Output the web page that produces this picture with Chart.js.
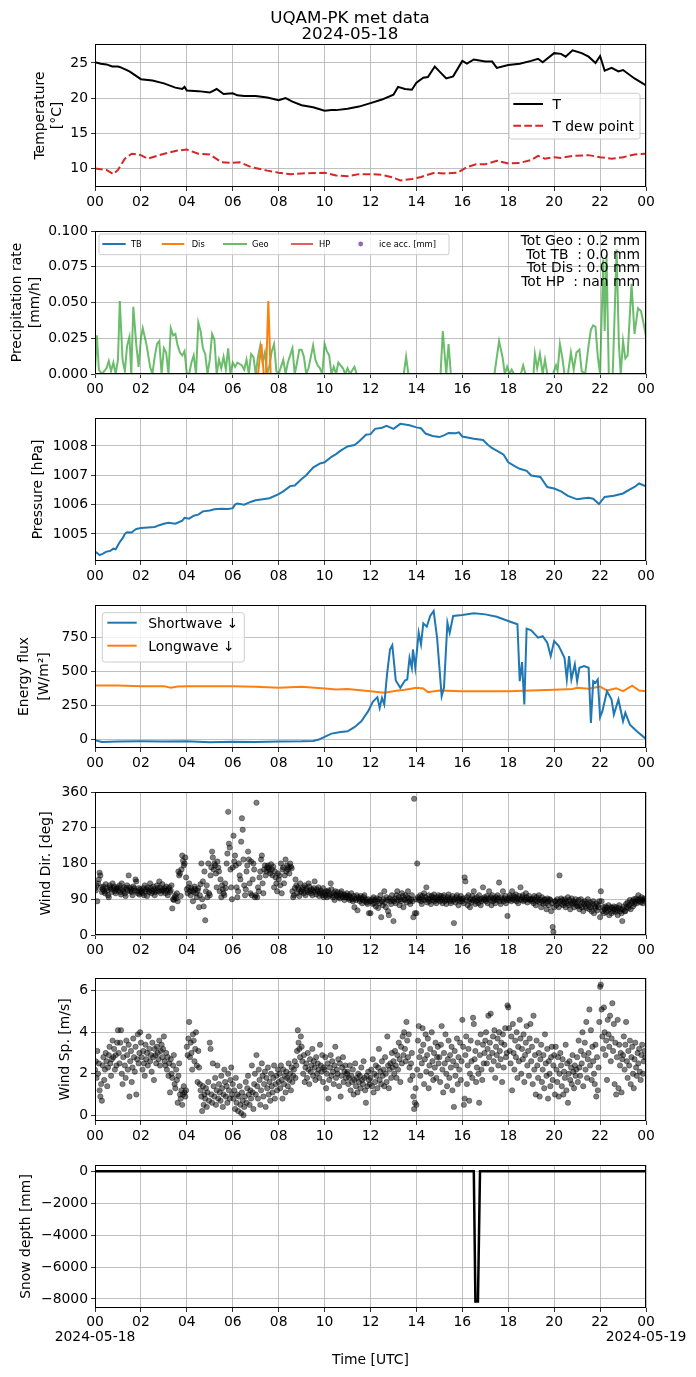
<!DOCTYPE html>
<html lang="en">
<head>
<meta charset="UTF-8">
<title>UQAM-PK met data</title>
<style type="text/css">
    body { margin: 0; background: #fff; }
    #fig { position: relative; width: 696px; height: 1377px; overflow: hidden; }
    .panel { position: absolute; left: 0; width: 696px; z-index: 1; }
    #overlay { position: absolute; left: 0; top: 0; z-index: 2; pointer-events: none; }
    #overlay text { font-family: 'DejaVu Sans', sans-serif; fill: #000; }
</style>
</head>
<body>
<div id="fig">
    <div class="panel" id="p1"><canvas></canvas></div>
    <div class="panel" id="p2"><canvas></canvas></div>
    <div class="panel" id="p3"><canvas></canvas></div>
    <div class="panel" id="p4"><canvas></canvas></div>
    <div class="panel" id="p5"><canvas></canvas></div>
    <div class="panel" id="p6"><canvas></canvas></div>
    <div class="panel" id="p7"><canvas></canvas></div>

    <!-- titles, axis labels and legends as text on top of the canvases -->
    <svg id="overlay" width="696" height="1377" viewBox="0 0 696 1377">
        <text x="350" y="16.7" font-size="16.7" text-anchor="middle" dominant-baseline="central">UQAM-PK met data</text>
        <text x="350" y="33.3" font-size="16.7" text-anchor="middle" dominant-baseline="central">2024-05-18</text>

        <text transform="translate(38.7,115.5) rotate(-90)" font-size="13.9" text-anchor="middle" dominant-baseline="central">Temperature</text>
        <text transform="translate(55.6,115.5) rotate(-90)" font-size="13.9" text-anchor="middle" dominant-baseline="central">[°C]</text>
        <text transform="translate(15.6,302.5) rotate(-90)" font-size="13.9" text-anchor="middle" dominant-baseline="central">Precipitation rate</text>
        <text transform="translate(33.8,302.5) rotate(-90)" font-size="13.9" text-anchor="middle" dominant-baseline="central">[mm/h]</text>
        <text transform="translate(36.9,489.5) rotate(-90)" font-size="13.9" text-anchor="middle" dominant-baseline="central">Pressure [hPa]</text>
        <text transform="translate(22.7,676.5) rotate(-90)" font-size="13.9" text-anchor="middle" dominant-baseline="central">Energy flux</text>
        <text transform="translate(43,676.5) rotate(-90)" font-size="13.9" text-anchor="middle" dominant-baseline="central">[W/m²]</text>
        <text transform="translate(45.3,863.5) rotate(-90)" font-size="13.9" text-anchor="middle" dominant-baseline="central">Wind Dir. [deg]</text>
        <text transform="translate(63.5,1049.5) rotate(-90)" font-size="13.9" text-anchor="middle" dominant-baseline="central">Wind Sp. [m/s]</text>
        <text transform="translate(25,1236.5) rotate(-90)" font-size="13.9" text-anchor="middle" dominant-baseline="central">Snow depth [mm]</text>
        <text x="370.5" y="1359" font-size="13.9" text-anchor="middle" dominant-baseline="central">Time [UTC]</text>

        <!-- temperature legend -->
        <rect x="509" y="93.3" width="131" height="45.7" rx="2.5" fill="#fff" fill-opacity="0.8" stroke="#cccccc" stroke-width="1"/>
        <line x1="513.3" x2="543" y1="104" y2="104" stroke="#000" stroke-width="2"/>
        <text x="552.4" y="104" font-size="13.9" dominant-baseline="central">T</text>
        <line x1="513.3" x2="543" y1="125.7" y2="125.7" stroke="#d62728" stroke-width="2" stroke-dasharray="7.7 3.3"/>
        <text x="552.4" y="125.7" font-size="13.9" dominant-baseline="central">T dew point</text>

        <!-- precipitation legend -->
        <rect x="99" y="234" width="350" height="20.7" rx="2" fill="#fff" fill-opacity="0.8" stroke="#cccccc" stroke-width="1"/>
        <line x1="102.3" x2="125.7" y1="244" y2="244" stroke="#1f77b4" stroke-width="2"/>
        <text x="131" y="244" font-size="8.33" dominant-baseline="central">TB</text>
        <line x1="161.7" x2="184.3" y1="244" y2="244" stroke="#ff7f0e" stroke-width="2"/>
        <text x="191.7" y="244" font-size="8.33" dominant-baseline="central">Dis</text>
        <line x1="223" x2="247" y1="244" y2="244" stroke="rgb(107,188,107)" stroke-width="2"/>
        <text x="252" y="244" font-size="8.33" dominant-baseline="central">Geo</text>
        <line x1="291" x2="313" y1="244" y2="244" stroke="rgb(226,95,96)" stroke-width="2"/>
        <text x="319" y="244" font-size="8.33" dominant-baseline="central">HP</text>
        <circle cx="360.7" cy="244" r="2.4" fill="#9467bd"/>
        <text x="379" y="244" font-size="8.33" dominant-baseline="central">ice acc. [mm]</text>

        <!-- precipitation totals -->
        <text x="640" y="239.7" font-size="13.9" text-anchor="end" dominant-baseline="central" style="white-space:pre">Tot Geo : 0.2 mm</text>
        <text x="640" y="253.7" font-size="13.9" text-anchor="end" dominant-baseline="central" style="white-space:pre">Tot TB  : 0.0 mm</text>
        <text x="640" y="267.3" font-size="13.9" text-anchor="end" dominant-baseline="central" style="white-space:pre">Tot Dis : 0.0 mm</text>
        <text x="640" y="281.3" font-size="13.9" text-anchor="end" dominant-baseline="central" style="white-space:pre">Tot HP  : nan mm</text>

        <!-- radiation legend -->
        <rect x="102.3" y="612.7" width="142" height="49.3" rx="2.5" fill="#fff" fill-opacity="0.8" stroke="#cccccc" stroke-width="1"/>
        <line x1="107.3" x2="136.7" y1="622.7" y2="622.7" stroke="#1f77b4" stroke-width="2"/>
        <text x="148.3" y="622.7" font-size="13.9" dominant-baseline="central">Shortwave ↓</text>
        <line x1="107.3" x2="136.7" y1="645.7" y2="645.7" stroke="#ff7f0e" stroke-width="2"/>
        <text x="148.3" y="645.7" font-size="13.9" dominant-baseline="central">Longwave ↓</text>
    </svg>
</div>

<script src="https://cdn.jsdelivr.net/npm/chart.js"></script>
<script>
    // ---- data (time in hours UTC of 2024-05-18) ----
    const xTickHours = [0, 2, 4, 6, 8, 10, 12, 14, 16, 18, 20, 22, 24];
    const dayLabels = ['2024-05-18', '2024-05-19'];

    const tempTicks = [10, 15, 20, 25];
    const precipTicks = [0, 0.025, 0.05, 0.075, 0.1];
    const presTicks = [1005, 1006, 1007, 1008];
    const fluxTicks = [0, 250, 500, 750];
    const dirTicks = [0, 90, 180, 270, 360];
    const spdTicks = [0, 2, 4, 6];
    const snowTicks = [-8000, -6000, -4000, -2000, 0];

    // [hour, degC]
    const airTemp = [[0,25.1],[0.25,24.9],[0.5,24.8],[0.75,24.5],[1,24.5],[1.1,24.4],[1.5,23.8],[2,22.7],[2.5,22.5],[3,22.1],
        [3.5,21.5],[3.8,21.3],[3.9,21.6],[4,21.1],[4.5,21.0],[5,20.8],[5.3,21.3],[5.6,20.6],[6,20.7],[6.2,20.4],[6.5,20.3],
        [7,20.3],[7.5,20.1],[8,19.7],[8.3,20.0],[8.6,19.5],[9,19.0],[9.5,18.7],[10,18.2],[10.3,18.3],[10.5,18.3],[11,18.5],
        [11.5,18.8],[12,19.3],[12.5,19.8],[13,20.5],[13.2,21.6],[13.5,21.3],[13.8,21.2],[14,22.2],[14.3,22.9],[14.5,23.0],
        [14.8,24.5],[15,23.8],[15.3,22.8],[15.6,23.1],[16,25.3],[16.2,24.9],[16.5,25.5],[17,25.2],[17.3,25.2],[17.5,24.3],
        [18,24.7],[18.5,24.9],[19,25.3],[19.3,25.6],[19.5,25.1],[20,26.4],[20.3,26.3],[20.5,25.9],[20.8,26.8],[21.2,26.4],
        [21.5,25.9],[21.8,25.0],[22,26.0],[22.2,23.9],[22.5,24.3],[22.8,23.8],[23,24.0],[23.5,22.8],[24,21.8]];
    const dewPoint = [[0,10.0],[0.5,9.8],[0.8,9.2],[1,9.8],[1.3,11.4],[1.6,12.1],[2,11.9],[2.3,11.4],[2.8,11.9],[3.5,12.5],
        [4,12.7],[4.5,12.1],[5,12.0],[5.5,10.9],[6,10.8],[6.3,10.9],[6.8,10.2],[7.5,9.7],[8,9.4],[8.5,9.2],[9,9.3],[10,9.4],
        [10.5,9.0],[11,8.9],[11.5,9.2],[12,9.2],[12.5,9.1],[13,8.7],[13.3,8.3],[13.8,8.5],[14.2,8.8],[14.8,9.4],[15.2,9.3],
        [15.8,9.4],[16.2,10.2],[16.6,10.6],[17,10.6],[17.5,11.1],[18,10.7],[18.5,10.8],[19,11.2],[19.3,11.8],[19.6,11.4],
        [20,11.6],[20.3,11.5],[20.8,11.8],[21.5,11.9],[22,11.6],[22.5,11.4],[23,11.6],[23.5,12.0],[24,12.1]];

    // [hour, mm/h]
    const precipTB = [[0,0],[24,0]];
    const precipDis = [[0,0],[7.1,0],[7.25,0.021],[7.35,0],[7.45,0],[7.55,0.051],[7.65,0],[24,0]];
    const precipGeo = [[0,0.002],[0.08,0.027],[0.17,0.003],[0.3,0],[0.5,0.004],[0.6,0.009],[0.7,0.002],[0.8,0.008],[0.9,0],
        [1.0,0.01],[1.08,0.051],[1.2,0.01],[1.3,0.002],[1.4,0.02],[1.5,0.026],[1.58,0],[1.67,0.047],[1.8,0.02],[1.9,0.005],
        [2.0,0.025],[2.08,0.032],[2.25,0.02],[2.4,0.005],[2.5,0],[2.6,0.012],[2.7,0.021],[2.8,0.023],[2.9,0],[3.0,0.018],
        [3.1,0.015],[3.2,0],[3.3,0.032],[3.4,0.027],[3.5,0.028],[3.6,0.02],[3.7,0.015],[3.8,0.013],[3.9,0.016],[4.0,0],[4.1,0],
        [4.2,0.008],[4.3,0.013],[4.4,0],[4.5,0.036],[4.6,0.03],[4.7,0.018],[4.8,0.014],[4.9,0],[5.0,0.01],[5.1,0.028],
        [5.2,0.024],[5.3,0],[5.4,0.01],[5.5,0.004],[5.6,0.012],[5.7,0.003],[5.8,0.018],[5.9,0],[6.0,0.008],[6.1,0.005],
        [6.2,0.008],[6.3,0.007],[6.4,0.006],[6.5,0.003],[6.6,0.01],[6.7,0],[6.8,0.014],[6.9,0.012],[7.0,0],[7.1,0.012],
        [7.2,0.02],[7.3,0.008],[7.4,0.015],[7.5,0],[7.6,0.006],[7.7,0.016],[7.8,0.021],[7.9,0.002],[8.0,0],[8.1,0.005],
        [8.2,0.01],[8.3,0],[8.4,0.008],[8.5,0.013],[8.6,0.018],[8.7,0],[8.8,0.008],[8.9,0.017],[9.0,0.017],[9.1,0.012],
        [9.2,0],[9.3,0.004],[9.4,0.012],[9.5,0.02],[9.6,0.01],[9.7,0.006],[9.8,0.004],[9.9,0],[10.0,0.021],[10.1,0.016],
        [10.2,0.013],[10.3,0],[10.4,0.005],[10.5,0],[10.6,0.008],[10.7,0.006],[10.8,0.004],[10.9,0],[11.0,0.004],[11.1,0],
        [11.3,0.005],[11.4,0],[13.45,0],[13.55,0.012],[13.65,0],[15.05,0],[15.15,0.03],[15.3,0],[15.4,0.021],[15.5,0],
        [17.4,0],[17.6,0.023],[17.75,0.012],[17.85,0],[17.95,0.005],[18.05,0],[18.15,0.003],[18.25,0],[18.55,0],
        [18.65,0.006],[18.75,0],[19.1,0],[19.16,0.014],[19.26,0.004],[19.38,0.014],[19.5,0],[19.6,0.01],[19.7,0],[19.95,0],
        [20.08,0.006],[20.15,0.002],[20.25,0.021],[20.35,0.012],[20.45,0],[20.6,0],[20.73,0.015],[20.85,0.003],[20.97,0.015],
        [21.1,0.017],[21.2,0.002],[21.35,0],[21.5,0.02],[21.6,0.031],[21.7,0.034],[21.8,0.033],[21.9,0.012],[22.0,0],
        [22.14,0.08],[22.2,0.03],[22.28,0.083],[22.38,0],[22.55,0],[22.65,0.05],[22.72,0.087],[22.82,0.02],[22.9,0],
        [23.0,0.023],[23.1,0.011],[23.2,0.013],[23.37,0.063],[23.5,0.028],[23.65,0.046],[23.78,0.044],[23.9,0.035],[24,0.026]];

    // [hour, hPa]
    const pressure = [[0,1004.4],[0.1,1004.35],[0.2,1004.28],[0.35,1004.33],[0.5,1004.4],[0.65,1004.42],[0.8,1004.5],
        [0.9,1004.48],[1.0,1004.62],[1.1,1004.75],[1.2,1004.85],[1.3,1005.0],[1.4,1005.06],[1.6,1005.05],[1.7,1005.12],
        [1.8,1005.17],[2.0,1005.2],[2.3,1005.22],[2.6,1005.24],[2.8,1005.3],[3.0,1005.35],[3.2,1005.38],[3.5,1005.35],
        [3.8,1005.45],[3.9,1005.55],[4.1,1005.52],[4.3,1005.62],[4.5,1005.66],[4.7,1005.77],[5.0,1005.8],[5.2,1005.84],
        [5.5,1005.86],[5.8,1005.85],[6.0,1005.88],[6.1,1006.0],[6.2,1006.04],[6.5,1006.0],[6.8,1006.1],[7.0,1006.15],
        [7.3,1006.18],[7.6,1006.22],[8.0,1006.36],[8.2,1006.45],[8.5,1006.63],[8.7,1006.65],[9.0,1006.87],[9.2,1007.0],
        [9.5,1007.26],[9.8,1007.4],[10.0,1007.44],[10.3,1007.63],[10.5,1007.72],[10.7,1007.84],[11.0,1007.98],[11.3,1008.03],
        [11.5,1008.15],[11.8,1008.38],[12.0,1008.4],[12.2,1008.58],[12.5,1008.62],[12.7,1008.68],[13.0,1008.58],
        [13.3,1008.75],[13.7,1008.7],[14.0,1008.63],[14.2,1008.6],[14.4,1008.42],[14.7,1008.34],[15.0,1008.3],
        [15.2,1008.36],[15.4,1008.44],[15.7,1008.43],[15.85,1008.46],[16.0,1008.32],[16.5,1008.24],[16.9,1008.2],
        [17.1,1008.05],[17.3,1007.92],[17.5,1007.84],[17.8,1007.7],[18.0,1007.44],[18.3,1007.3],[18.5,1007.22],
        [18.8,1007.15],[19.0,1006.99],[19.4,1006.94],[19.7,1006.6],[20.0,1006.55],[20.3,1006.45],[20.6,1006.3],
        [21.0,1006.18],[21.3,1006.22],[21.5,1006.23],[21.7,1006.2],[21.95,1006.02],[22.2,1006.26],[22.6,1006.3],
        [23.0,1006.38],[23.3,1006.52],[23.5,1006.6],[23.7,1006.72],[24,1006.62]];

    // [hour, W/m2]
    const shortwave = [[0,-5],[0.3,-17],[1,-14],[2,-13],[3,-14],[4,-13],[5,-20],[6,-16],[7,-18],[8,-15],[9,-13],[9.5,-10],
        [9.75,0],[10.0,20],[10.3,44],[10.7,56],[11.0,61],[11.3,91],[11.6,135],[11.9,209],[12.1,278],[12.3,312],[12.4,233],
        [12.5,307],[12.6,258],[12.72,479],[12.85,663],[12.95,695],[13.1,435],[13.3,381],[13.5,435],[13.6,442],[13.7,602],
        [13.8,528],[13.85,663],[13.95,528],[14.1,786],[14.2,700],[14.3,855],[14.45,830],[14.6,909],[14.75,946],[14.9,750],
        [15.1,319],[15.2,381],[15.35,860],[15.45,786],[15.6,909],[16.0,916],[16.5,929],[17.0,921],[17.5,904],[18.0,872],
        [18.4,848],[18.5,430],[18.6,570],[18.7,258],[18.8,816],[19.0,804],[19.3,750],[19.5,760],[19.7,713],[19.85,614],
        [20.0,725],[20.2,688],[20.45,602],[20.55,442],[20.65,614],[20.75,442],[20.9,553],[21.0,430],[21.1,528],[21.3,540],
        [21.5,528],[21.6,123],[21.7,430],[21.8,418],[21.9,442],[22.0,165],[22.1,209],[22.3,356],[22.5,295],[22.6,184],
        [22.8,295],[23.0,135],[23.1,197],[23.3,110],[23.6,61],[24,5]];
    const longwave = [[0,398],[1,398],[2,393],[3,393],[3.3,381],[3.6,390],[4,393],[6,393],[7,388],[8,381],[9,388],[10,376],
        [10.5,369],[11,372],[12,356],[12.6,344],[13.2,361],[13.5,366],[14,381],[14.3,376],[14.5,349],[15,361],[16,356],
        [17,356],[18,356],[19,361],[20,366],[20.8,372],[21,381],[21.5,374],[22,390],[22.3,361],[22.7,378],[23,356],
        [23.4,396],[23.7,361],[24,356]];

    // one value every 2 minutes, one row per hour
    const windDir = [
        118,112,125,85,130,140,157,150,120,108,115,122,110,105,128,118,112,100,95,125,120,115,108,130,118,122,110,105,115,120,
        112,118,125,108,102,130,115,110,120,105,98,118,125,112,150,120,110,115,108,100,122,118,112,140,135,110,105,118,102,115,
        108,112,105,118,100,125,110,115,98,120,112,108,130,118,105,110,122,115,100,108,112,125,118,110,135,120,105,112,128,115,
        110,118,105,122,112,100,115,120,108,112,125,67,90,88,95,100,92,105,85,160,150,155,98,165,200,187,175,180,195,145,
        115,105,120,130,110,100,118,112,85,108,122,115,105,95,112,118,70,100,128,180,90,135,72,160,37,110,125,95,180,105,
        100,150,170,210,195,165,180,175,155,120,185,170,160,110,140,95,125,115,105,100,130,118,180,205,310,230,220,165,120,90,
        170,250,185,200,175,120,95,110,180,150,140,235,294,265,190,125,100,115,160,175,210,190,130,105,185,100,140,180,165,95,
        100,333,95,120,110,145,160,190,200,130,105,165,175,150,160,170,175,168,162,155,178,165,150,172,120,160,145,130,110,155,
        140,150,125,180,105,165,170,130,150,190,160,175,165,170,155,180,172,168,110,95,100,118,140,125,105,120,115,98,130,108,
        110,115,120,105,125,100,118,112,108,130,122,110,105,115,100,112,118,135,108,102,115,110,120,98,105,112,108,100,118,95,
        105,100,110,95,108,112,98,102,130,115,100,95,105,88,110,102,98,108,95,100,92,105,110,98,95,102,88,100,95,105,
        98,92,100,88,95,105,90,85,98,70,92,88,100,62,95,90,85,98,92,80,88,95,100,85,90,82,78,90,55,85,
        55,85,90,78,95,80,88,72,92,85,68,90,80,100,45,85,75,90,110,82,70,95,88,60,50,92,85,78,100,88,
        35,85,92,80,100,110,88,95,75,90,85,105,98,70,90,88,100,82,95,110,92,85,78,90,100,85,45,343,55,90,
        55,180,95,88,92,100,85,78,98,90,105,88,95,120,82,90,100,85,92,78,98,88,95,102,85,90,80,95,88,100,
        92,85,98,88,80,95,100,85,90,78,88,95,102,90,85,80,92,98,86,30,90,82,95,100,88,75,92,85,98,90,
        85,92,80,145,135,88,95,75,100,85,70,90,82,98,88,110,92,78,85,95,88,80,100,90,75,85,92,120,88,95,
        90,85,98,80,92,110,88,95,75,100,85,92,88,80,95,88,100,92,132,85,78,95,90,110,85,92,98,80,88,48,
        92,88,100,95,85,110,90,98,88,95,102,85,92,80,98,90,120,88,95,100,85,92,88,105,95,82,90,98,88,90,
        90,85,92,80,98,88,75,95,85,90,100,82,88,70,95,85,78,90,88,80,65,92,85,75,90,88,60,80,20,8,
        70,85,85,75,90,80,70,150,85,92,78,88,75,82,90,70,85,80,95,75,88,65,80,92,78,85,70,82,90,75,
        80,72,88,65,75,90,70,82,60,78,85,72,68,80,90,75,65,82,70,60,78,85,55,72,68,80,62,75,70,85,
        45,110,85,60,70,55,65,72,58,68,62,75,50,65,70,55,68,60,72,65,58,70,62,50,68,75,60,65,55,35,
        65,72,60,60,78,70,82,68,75,88,65,80,85,72,90,78,85,92,80,88,100,85,90,82,95,88,80,92,85,90];
    const windSpd = [
        2.2,2.6,1.8,3.1,2.0,2.5,1.2,0.9,1.5,0.7,2.4,2.8,1.7,2.2,3.0,2.6,1.4,2.3,2.9,3.3,2.5,1.9,2.7,3.6,2.8,3.2,2.2,2.9,2.4,3.5,
        4.1,3.0,2.5,3.5,4.1,2.0,1.5,2.8,3.2,2.4,1.8,3.6,2.9,2.2,3.4,0.9,2.6,3.1,1.6,2.3,3.7,2.8,2.1,3.3,1.0,2.7,3.9,2.5,3.0,4.0,
        3.5,2.8,2.2,3.1,2.5,1.9,3.4,2.7,3.0,2.4,3.8,3.2,2.6,2.9,2.1,3.5,2.8,1.7,3.2,2.9,2.5,3.3,3.0,2.7,3.6,2.4,3.1,3.4,2.8,3.2,
        3.8,2.6,2.4,3.0,2.2,2.8,1.9,2.5,1.1,2.7,2.0,1.8,2.4,2.9,1.5,1.3,2.2,1.7,0.6,1.9,2.5,1.0,0.8,1.2,0.5,1.0,1.4,1.1,0.9,1.2,
        3.3,2.9,3.7,4.5,2.8,3.5,3.0,2.2,3.9,3.6,2.6,3.2,4.0,2.4,1.6,3.1,2.3,1.5,1.2,0.9,0.2,1.4,0.5,1.0,0.8,1.3,0.4,1.1,1.6,0.7,
        3.5,3.2,1.0,0.6,2.5,1.4,0.9,1.8,0.5,1.2,2.4,0.8,1.5,1.1,0.7,1.9,1.3,0.4,1.0,2.2,1.6,0.9,1.4,0.6,2.0,1.2,0.8,1.7,2.3,1.0,
        1.5,0.8,1.2,0.3,1.8,0.6,1.0,0.2,0.9,1.4,0.5,0.1,1.1,0.7,0.0,0.4,0.9,1.6,0.6,1.3,1.9,1.0,0.5,1.2,0.8,2.4,1.1,0.3,1.5,2.0,
        1.0,2.9,1.4,0.8,2.2,1.7,0.5,1.2,2.5,1.9,0.9,1.5,2.1,0.4,1.8,1.3,2.3,1.0,1.6,0.7,2.0,1.4,1.1,1.8,2.4,0.8,1.5,1.9,1.2,2.2,
        1.6,2.0,1.3,2.4,1.7,0.8,2.2,1.5,1.9,1.1,2.1,1.8,1.4,2.5,1.7,2.0,1.2,2.3,1.6,1.9,2.2,2.6,1.8,2.4,3.1,4.1,3.5,3.2,2.8,3.8,
        3.3,2.6,2.0,2.9,1.6,2.3,2.5,1.8,3.0,2.2,1.5,2.7,2.1,2.4,3.2,1.9,2.6,2.3,1.7,2.8,2.0,2.5,2.2,1.8,3.4,2.4,2.1,2.9,1.6,2.3,
        2.2,2.8,1.3,2.0,2.5,0.8,1.7,2.3,2.9,1.9,2.6,2.1,1.5,2.4,3.3,1.8,2.2,2.0,2.7,1.4,2.5,0.9,1.9,2.3,2.8,1.6,2.1,2.4,1.8,2.0,
        2.1,1.5,1.8,2.4,1.2,1.9,1.6,2.2,1.0,1.7,2.5,1.4,1.8,1.1,2.0,1.6,1.9,1.3,2.3,1.7,1.5,2.6,1.8,1.2,0.6,1.9,1.4,2.1,1.7,1.5,
        1.8,2.2,1.4,2.7,1.1,2.0,1.6,2.4,1.9,1.3,2.3,3.2,1.7,2.1,1.5,2.6,1.9,2.2,1.4,2.8,2.0,1.6,3.8,2.4,1.3,2.2,2.5,1.8,3.0,2.3,
        2.6,2.0,3.1,2.4,1.8,2.9,2.2,3.5,2.7,1.6,3.3,2.5,3.8,2.9,4.0,3.2,2.6,4.5,3.6,2.8,3.9,2.3,1.7,2.5,3.0,1.9,0.9,0.3,0.6,1.3,
        0.5,2.2,3.6,4.3,2.8,1.9,3.1,2.5,4.2,3.4,1.5,2.7,3.9,2.1,2.9,3.7,1.3,2.4,3.2,2.0,4.0,2.6,1.7,3.0,2.3,3.5,1.8,2.8,3.3,2.5,
        2.8,1.6,3.4,4.3,2.2,1.1,3.0,2.5,3.9,2.0,1.4,2.7,3.6,1.8,2.9,2.3,3.3,1.2,2.6,0.4,3.1,1.9,2.4,3.7,1.5,2.8,2.2,3.5,1.7,2.6,
        4.6,3.3,0.5,0.8,2.9,3.8,1.5,2.4,3.2,0.7,2.0,3.6,2.6,1.8,4.7,4.4,2.7,3.1,1.6,2.3,3.5,2.0,0.6,2.9,3.9,2.2,1.7,3.4,2.5,3.0,
        3.6,4.0,2.5,3.2,4.8,2.8,3.5,4.9,2.2,3.0,3.8,2.6,4.1,1.8,3.3,2.9,3.7,2.4,4.0,3.1,2.7,3.5,1.6,3.9,2.3,3.4,4.2,2.8,3.0,5.3,
        5.2,4.2,3.1,2.5,3.8,1.2,4.4,3.0,2.2,3.6,2.8,4.0,1.8,3.3,2.6,4.6,3.7,2.0,3.2,2.7,3.9,1.6,2.9,3.5,4.3,2.4,3.1,1.9,3.7,4.4,
        2.6,3.3,1.5,4.8,2.2,2.9,1.0,3.6,2.4,1.8,3.0,0.9,2.7,3.4,1.6,2.2,2.9,1.3,3.9,2.5,1.9,3.2,0.8,2.6,2.0,1.4,2.8,3.3,1.7,2.4,
        2.9,1.0,3.3,2.2,1.6,2.8,0.9,2.0,3.0,2.4,1.4,2.7,1.0,2.1,1.8,3.4,1.2,2.5,0.6,2.0,2.6,1.7,2.3,1.5,2.9,2.1,1.3,2.4,1.9,2.2,
        2.8,1.6,3.6,2.3,1.9,3.1,2.5,4.0,1.4,2.9,3.5,2.2,4.5,1.8,2.7,3.0,5.1,2.4,4.1,1.7,3.3,2.6,2.0,1.5,3.4,0.9,2.8,1.2,2.3,4.5,
        6.2,6.3,5.1,3.8,3.2,5.2,4.0,2.9,3.6,1.7,4.6,3.9,3.3,4.8,2.6,3.7,5.4,3.1,4.4,1.5,3.5,1.0,2.8,4.6,1.3,3.4,2.4,3.0,1.1,2.7,
        2.9,3.8,2.2,3.4,4.5,2.6,1.8,3.1,2.4,3.6,1.5,2.8,3.3,2.0,1.3,2.7,3.5,2.3,1.9,3.0,2.5,3.2,2.1,1.7,2.9,3.4,2.0,2.6,3.1,2.8];

    // [hour, mm]
    const snowDepth = [[0,0],[16.5,0],[16.57,-8150],[16.68,-8150],[16.77,0],[24,0]];

    // ---- layout ----
    const PAD_TOP = 14, PLOT_H = 143, RIGHT_GAP = 50, AXIS_W = 95;
    const FONT = "'DejaVu Sans', sans-serif";

    Chart.defaults.font.family = FONT;
    Chart.defaults.font.size = 13.9;
    Chart.defaults.color = '#000';

    function pts(pairs) {
        return pairs.map(p => ({ x: p[0], y: p[1] }));
    }
    function evenPts(values) {
        return values.map((v, i) => ({ x: i * 24 / values.length, y: v }));
    }
    function lineSet(pairs, color, extra) {
        return Object.assign({
            data: pts(pairs), borderColor: color, borderWidth: 2,
            pointRadius: 0, tension: 0, fill: false
        }, extra || {});
    }
    function dotSet(values) {
        return {
            data: evenPts(values), showLine: false, pointRadius: 2.7,
            pointBackgroundColor: 'rgba(0,0,0,0.5)', pointBorderColor: 'rgba(0,0,0,0.55)', pointBorderWidth: 0.6
        };
    }

    // matplotlib style closed frame around the plot area
    const framePlugin = {
        id: 'frame',
        afterDatasetsDraw(chart) {
            const a = chart.chartArea, c = chart.ctx;
            c.save();
            c.strokeStyle = '#000';
            c.lineWidth = 1;
            c.strokeRect(Math.round(a.left) + 0.5, Math.round(a.top) + 0.5,
                Math.round(a.right - a.left) - 1, Math.round(a.bottom - a.top) - 1);
            c.restore();
        }
    };

    function hourLabel(v, last) {
        const s = String(v % 24).padStart(2, '0');
        if (last && v === 0) return [s, dayLabels[0]];
        if (last && v === 24) return [s, dayLabels[1]];
        return s;
    }

    function makePanel(id, top, bottomRoom, datasets, yMin, yMax, yTicks, yFmt, last) {
        const wrap = document.getElementById(id);
        wrap.style.top = (top - PAD_TOP) + 'px';
        wrap.style.height = (PAD_TOP + PLOT_H + bottomRoom) + 'px';
        const grid = { color: '#b0b0b0', lineWidth: 0.8, tickColor: '#000', tickLength: 4, tickWidth: 0.8, drawTicks: true };
        return new Chart(wrap.querySelector('canvas'), {
            type: 'line',
            data: { datasets: datasets },
            options: {
                animation: false,
                responsive: true,
                maintainAspectRatio: false,
                layout: { padding: { top: PAD_TOP, right: RIGHT_GAP, left: 0, bottom: 0 } },
                plugins: { legend: { display: false }, tooltip: { enabled: false } },
                scales: {
                    x: {
                        type: 'linear', min: 0, max: 24, grid: grid, border: { display: false },
                        afterBuildTicks: s => { s.ticks = xTickHours.map(v => ({ value: v })); },
                        afterFit: s => { s.height = bottomRoom; },
                        ticks: {
                            autoSkip: false, maxRotation: 0, padding: 3,
                            font: { family: FONT, size: 13.9, lineHeight: last ? 1.08 : 1.2 },
                            callback: v => hourLabel(v, last)
                        }
                    },
                    y: {
                        type: 'linear', min: yMin, max: yMax, grid: grid, border: { display: false },
                        afterBuildTicks: s => { s.ticks = yTicks.map(v => ({ value: v })); },
                        afterFit: s => { s.width = AXIS_W; },
                        ticks: { padding: 3, callback: yFmt }
                    }
                }
            },
            plugins: [framePlugin]
        });
    }

    const asInt = v => String(v);
    const minus = v => String(v).replace('-', '\u2212');

    makePanel('p1', 44, 30, [
        lineSet(airTemp, '#000'),
        lineSet(dewPoint, '#d62728', { borderDash: [7.7, 3.3] })
    ], 7.37, 27.7, tempTicks, asInt, false);

    makePanel('p2', 231, 30, [
        lineSet(precipTB, '#1f77b4'),
        lineSet(precipDis, '#ff7f0e'),
        lineSet(precipGeo, 'rgba(44,160,44,0.7)')
    ], 0, 0.1, precipTicks, v => v.toFixed(3), false);

    makePanel('p3', 418, 30, [
        lineSet(pressure, '#1f77b4')
    ], 1004.08, 1008.95, presTicks, asInt, false);

    makePanel('p4', 605, 30, [
        lineSet(shortwave, '#1f77b4'),
        lineSet(longwave, '#ff7f0e')
    ], -62, 990, fluxTicks, asInt, false);

    makePanel('p5', 792, 30, [dotSet(windDir)], 0, 360, dirTicks, asInt, false);

    makePanel('p6', 978, 30, [dotSet(windSpd)], -0.28, 6.62, spdTicks, asInt, false);

    makePanel('p7', 1165, 50, [
        lineSet(snowDepth, '#000', { borderWidth: 2.5 })
    ], -8564, 395, snowTicks, minus, true);
</script>
</body>
</html>
